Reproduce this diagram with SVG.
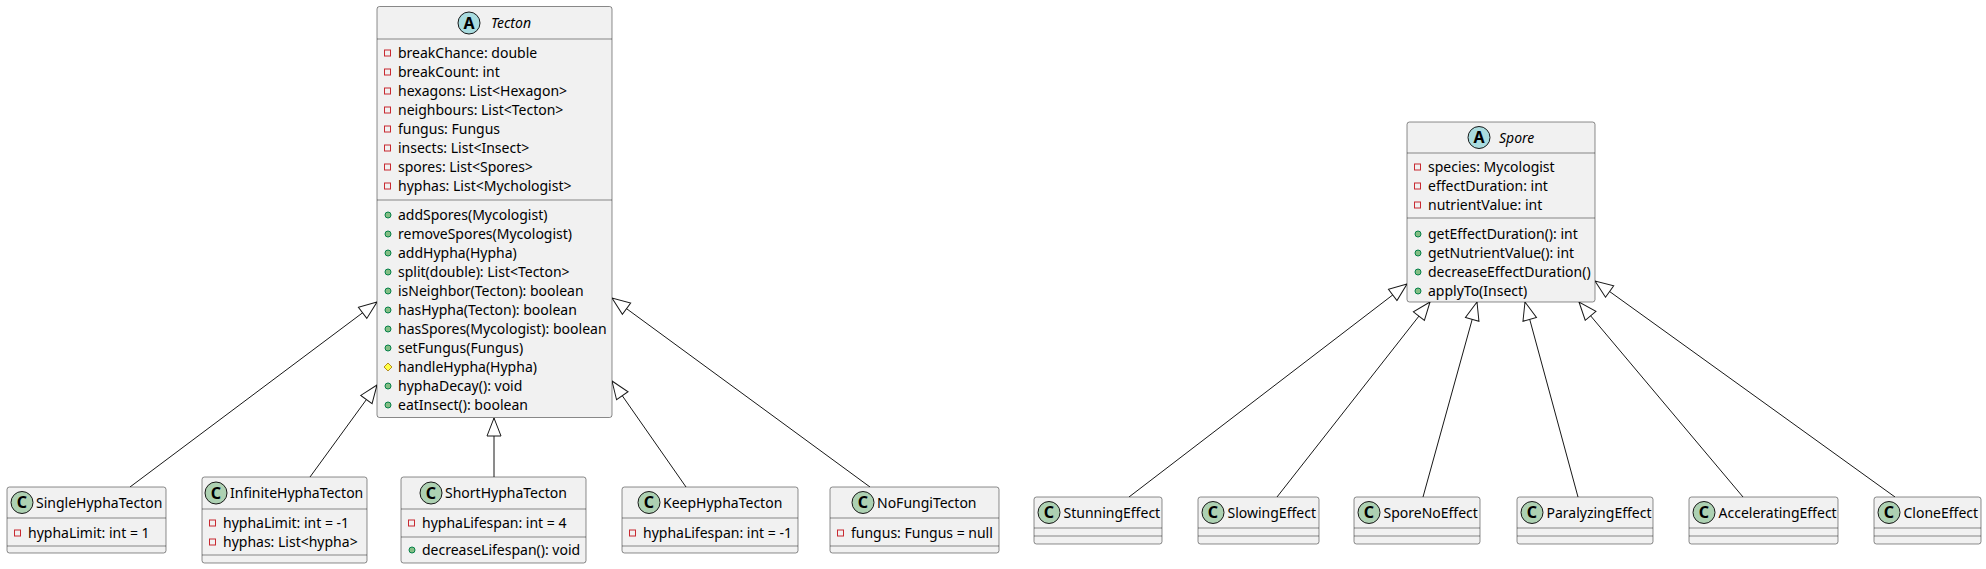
<svg xmlns="http://www.w3.org/2000/svg" xmlns:xlink="http://www.w3.org/1999/xlink" width="1986" height="569" viewBox="0 0 1986 569">
<style>
.box{fill:#F1F1F1;stroke:#181818;stroke-width:0.5}
.sep{stroke:#181818;stroke-width:0.5}
.t{font-family:"Noto Sans","DejaVu Sans",sans-serif;font-size:14px;fill:#000}
.it{font-style:italic}
.ca{fill:#A9DCDF;stroke:#181818;stroke-width:1}
.cc{fill:#ADD1B2;stroke:#181818;stroke-width:1}
.ltr{font-family:"Noto Sans","DejaVu Sans",sans-serif;font-size:16px;font-weight:bold;fill:#000;text-anchor:middle}
.edge{stroke:#181818;stroke-width:1;fill:none}
</style>
<defs>
<marker id="ext" viewBox="0 0 20 16" refX="19" refY="8" markerWidth="20" markerHeight="16" markerUnits="userSpaceOnUse" orient="auto">
<path d="M19,8 L1,1 L1,15 Z" fill="#FFFFFF" stroke="#181818" stroke-width="1"/>
</marker>
<rect id="priv" x="-3" y="-3" width="6" height="6" fill="none" stroke="#C82930" stroke-width="1"/>
<circle id="pub" r="3" fill="#84BE84" stroke="#038048" stroke-width="1"/>
<path id="prot" d="M0,-4 L4,0 L0,4 L-4,0 Z" fill="#FFFF44" stroke="#B38D22" stroke-width="1"/>
</defs>

<g id="connectors">
<line class="edge" x1="130" y1="487" x2="377" y2="302" marker-end="url(#ext)"/>
<line class="edge" x1="310" y1="477" x2="377" y2="385" marker-end="url(#ext)"/>
<line class="edge" x1="494" y1="477" x2="494" y2="418" marker-end="url(#ext)"/>
<line class="edge" x1="686" y1="487" x2="612" y2="381" marker-end="url(#ext)"/>
<line class="edge" x1="870" y1="487" x2="612" y2="298" marker-end="url(#ext)"/>
<line class="edge" x1="1129" y1="497" x2="1407" y2="284" marker-end="url(#ext)"/>
<line class="edge" x1="1277" y1="497" x2="1430" y2="302" marker-end="url(#ext)"/>
<line class="edge" x1="1423" y1="497" x2="1477" y2="302" marker-end="url(#ext)"/>
<line class="edge" x1="1578" y1="497" x2="1525" y2="302" marker-end="url(#ext)"/>
<line class="edge" x1="1743" y1="497" x2="1579" y2="302" marker-end="url(#ext)"/>
<line class="edge" x1="1895" y1="497" x2="1595" y2="281" marker-end="url(#ext)"/>
</g>

<g id="Tecton">
<rect class="box" x="377" y="6.5" width="235" height="411" rx="2.5"/>
<circle class="ca" cx="469" cy="23" r="11"/>
<text class="ltr" x="469" y="28.8">A</text>
<text class="t it" x="491" y="28">Tecton</text>
<line class="sep" x1="377" y1="39" x2="612" y2="39"/>
<use href="#priv" x="387.5" y="53"/><text class="t" x="398" y="58">breakChance: double</text>
<use href="#priv" x="387.5" y="72"/><text class="t" x="398" y="77">breakCount: int</text>
<use href="#priv" x="387.5" y="91"/><text class="t" x="398" y="96">hexagons: List&lt;Hexagon&gt;</text>
<use href="#priv" x="387.5" y="110"/><text class="t" x="398" y="115">neighbours: List&lt;Tecton&gt;</text>
<use href="#priv" x="387.5" y="129"/><text class="t" x="398" y="134">fungus: Fungus</text>
<use href="#priv" x="387.5" y="148"/><text class="t" x="398" y="153">insects: List&lt;Insect&gt;</text>
<use href="#priv" x="387.5" y="167"/><text class="t" x="398" y="172">spores: List&lt;Spores&gt;</text>
<use href="#priv" x="387.5" y="186"/><text class="t" x="398" y="191">hyphas: List&lt;Mychologist&gt;</text>
<line class="sep" x1="377" y1="200" x2="612" y2="200"/>
<use href="#pub" x="388" y="215"/><text class="t" x="398" y="220">addSpores(Mycologist)</text>
<use href="#pub" x="388" y="234"/><text class="t" x="398" y="239">removeSpores(Mycologist)</text>
<use href="#pub" x="388" y="253"/><text class="t" x="398" y="258">addHypha(Hypha)</text>
<use href="#pub" x="388" y="272"/><text class="t" x="398" y="277">split(double): List&lt;Tecton&gt;</text>
<use href="#pub" x="388" y="291"/><text class="t" x="398" y="296">isNeighbor(Tecton): boolean</text>
<use href="#pub" x="388" y="310"/><text class="t" x="398" y="315">hasHypha(Tecton): boolean</text>
<use href="#pub" x="388" y="329"/><text class="t" x="398" y="334">hasSpores(Mycologist): boolean</text>
<use href="#pub" x="388" y="348"/><text class="t" x="398" y="353">setFungus(Fungus)</text>
<use href="#prot" x="388" y="367"/><text class="t" x="398" y="372">handleHypha(Hypha)</text>
<use href="#pub" x="388" y="386"/><text class="t" x="398" y="391">hyphaDecay(): void</text>
<use href="#pub" x="388" y="405"/><text class="t" x="398" y="410">eatInsect(): boolean</text>
</g>

<g id="SingleHyphaTecton">
<rect class="box" x="7" y="487" width="159" height="66" rx="2.5"/>
<circle class="cc" cx="22" cy="502.5" r="11"/>
<text class="ltr" x="22" y="508.3">C</text>
<text class="t" x="36" y="507.5">SingleHyphaTecton</text>
<line class="sep" x1="7" y1="518" x2="166" y2="518"/>
<use href="#priv" x="17.5" y="533"/><text class="t" x="28" y="538">hyphaLimit: int = 1</text>
<line class="sep" x1="7" y1="546" x2="166" y2="546"/>
</g>

<g id="InfiniteHyphaTecton">
<rect class="box" x="202" y="477" width="165" height="86" rx="2.5"/>
<circle class="cc" cx="216" cy="493" r="11"/>
<text class="ltr" x="216" y="498.8">C</text>
<text class="t" x="230" y="498">InfiniteHyphaTecton</text>
<line class="sep" x1="202" y1="509" x2="367" y2="509"/>
<use href="#priv" x="212.5" y="523"/><text class="t" x="223" y="528">hyphaLimit: int = -1</text>
<use href="#priv" x="212.5" y="542"/><text class="t" x="223" y="547">hyphas: List&lt;hypha&gt;</text>
<line class="sep" x1="202" y1="555" x2="367" y2="555"/>
</g>

<g id="ShortHyphaTecton">
<rect class="box" x="401" y="477" width="185" height="86" rx="2.5"/>
<circle class="cc" cx="431" cy="493" r="11"/>
<text class="ltr" x="431" y="498.8">C</text>
<text class="t" x="445" y="498">ShortHyphaTecton</text>
<line class="sep" x1="401" y1="509" x2="586" y2="509"/>
<use href="#priv" x="411.5" y="523"/><text class="t" x="422" y="528">hyphaLifespan: int = 4</text>
<line class="sep" x1="401" y1="537" x2="586" y2="537"/>
<use href="#pub" x="412" y="550"/><text class="t" x="422" y="555">decreaseLifespan(): void</text>
</g>

<g id="KeepHyphaTecton">
<rect class="box" x="622" y="487" width="176" height="66" rx="2.5"/>
<circle class="cc" cx="649" cy="502.5" r="11"/>
<text class="ltr" x="649" y="508.3">C</text>
<text class="t" x="663" y="507.5">KeepHyphaTecton</text>
<line class="sep" x1="622" y1="518" x2="798" y2="518"/>
<use href="#priv" x="632.5" y="533"/><text class="t" x="643" y="538">hyphaLifespan: int = -1</text>
<line class="sep" x1="622" y1="546" x2="798" y2="546"/>
</g>

<g id="NoFungiTecton">
<rect class="box" x="830" y="487" width="169" height="66" rx="2.5"/>
<circle class="cc" cx="863" cy="502.5" r="11"/>
<text class="ltr" x="863" y="508.3">C</text>
<text class="t" x="877" y="507.5">NoFungiTecton</text>
<line class="sep" x1="830" y1="518" x2="999" y2="518"/>
<use href="#priv" x="840.5" y="533"/><text class="t" x="851" y="538">fungus: Fungus = null</text>
<line class="sep" x1="830" y1="546" x2="999" y2="546"/>
</g>

<g id="Spore">
<rect class="box" x="1407" y="122" width="188" height="180" rx="2.5"/>
<circle class="ca" cx="1479" cy="137.5" r="11"/>
<text class="ltr" x="1479" y="143.3">A</text>
<text class="t it" x="1499" y="142.5">Spore</text>
<line class="sep" x1="1407" y1="153" x2="1595" y2="153"/>
<use href="#priv" x="1417.5" y="167"/><text class="t" x="1428" y="172">species: Mycologist</text>
<use href="#priv" x="1417.5" y="186"/><text class="t" x="1428" y="191">effectDuration: int</text>
<use href="#priv" x="1417.5" y="205"/><text class="t" x="1428" y="210">nutrientValue: int</text>
<line class="sep" x1="1407" y1="218" x2="1595" y2="218"/>
<use href="#pub" x="1418" y="234"/><text class="t" x="1428" y="239">getEffectDuration(): int</text>
<use href="#pub" x="1418" y="253"/><text class="t" x="1428" y="258">getNutrientValue(): int</text>
<use href="#pub" x="1418" y="272"/><text class="t" x="1428" y="277">decreaseEffectDuration()</text>
<use href="#pub" x="1418" y="291"/><text class="t" x="1428" y="296">applyTo(Insect)</text>
</g>

<g id="StunningEffect">
<rect class="box" x="1034" y="497" width="128" height="47" rx="2.5"/>
<circle class="cc" cx="1049" cy="512.5" r="11"/>
<text class="ltr" x="1049" y="518.3">C</text>
<text class="t" x="1063.5" y="517.5">StunningEffect</text>
<line class="sep" x1="1034" y1="528" x2="1162" y2="528"/>
<line class="sep" x1="1034" y1="536" x2="1162" y2="536"/>
</g>

<g id="SlowingEffect">
<rect class="box" x="1198" y="497" width="121" height="47" rx="2.5"/>
<circle class="cc" cx="1213" cy="512.5" r="11"/>
<text class="ltr" x="1213" y="518.3">C</text>
<text class="t" x="1227.5" y="517.5">SlowingEffect</text>
<line class="sep" x1="1198" y1="528" x2="1319" y2="528"/>
<line class="sep" x1="1198" y1="536" x2="1319" y2="536"/>
</g>

<g id="SporeNoEffect">
<rect class="box" x="1354" y="497" width="126" height="47" rx="2.5"/>
<circle class="cc" cx="1369" cy="512.5" r="11"/>
<text class="ltr" x="1369" y="518.3">C</text>
<text class="t" x="1383.5" y="517.5">SporeNoEffect</text>
<line class="sep" x1="1354" y1="528" x2="1480" y2="528"/>
<line class="sep" x1="1354" y1="536" x2="1480" y2="536"/>
</g>

<g id="ParalyzingEffect">
<rect class="box" x="1517" y="497" width="136" height="47" rx="2.5"/>
<circle class="cc" cx="1532" cy="512.5" r="11"/>
<text class="ltr" x="1532" y="518.3">C</text>
<text class="t" x="1546.5" y="517.5">ParalyzingEffect</text>
<line class="sep" x1="1517" y1="528" x2="1653" y2="528"/>
<line class="sep" x1="1517" y1="536" x2="1653" y2="536"/>
</g>

<g id="AcceleratingEffect">
<rect class="box" x="1689" y="497" width="149" height="47" rx="2.5"/>
<circle class="cc" cx="1704" cy="512.5" r="11"/>
<text class="ltr" x="1704" y="518.3">C</text>
<text class="t" x="1718.5" y="517.5">AcceleratingEffect</text>
<line class="sep" x1="1689" y1="528" x2="1838" y2="528"/>
<line class="sep" x1="1689" y1="536" x2="1838" y2="536"/>
</g>

<g id="CloneEffect">
<rect class="box" x="1874" y="497" width="107" height="47" rx="2.5"/>
<circle class="cc" cx="1889" cy="512.5" r="11"/>
<text class="ltr" x="1889" y="518.3">C</text>
<text class="t" x="1903.5" y="517.5">CloneEffect</text>
<line class="sep" x1="1874" y1="528" x2="1981" y2="528"/>
<line class="sep" x1="1874" y1="536" x2="1981" y2="536"/>
</g>
</svg>
